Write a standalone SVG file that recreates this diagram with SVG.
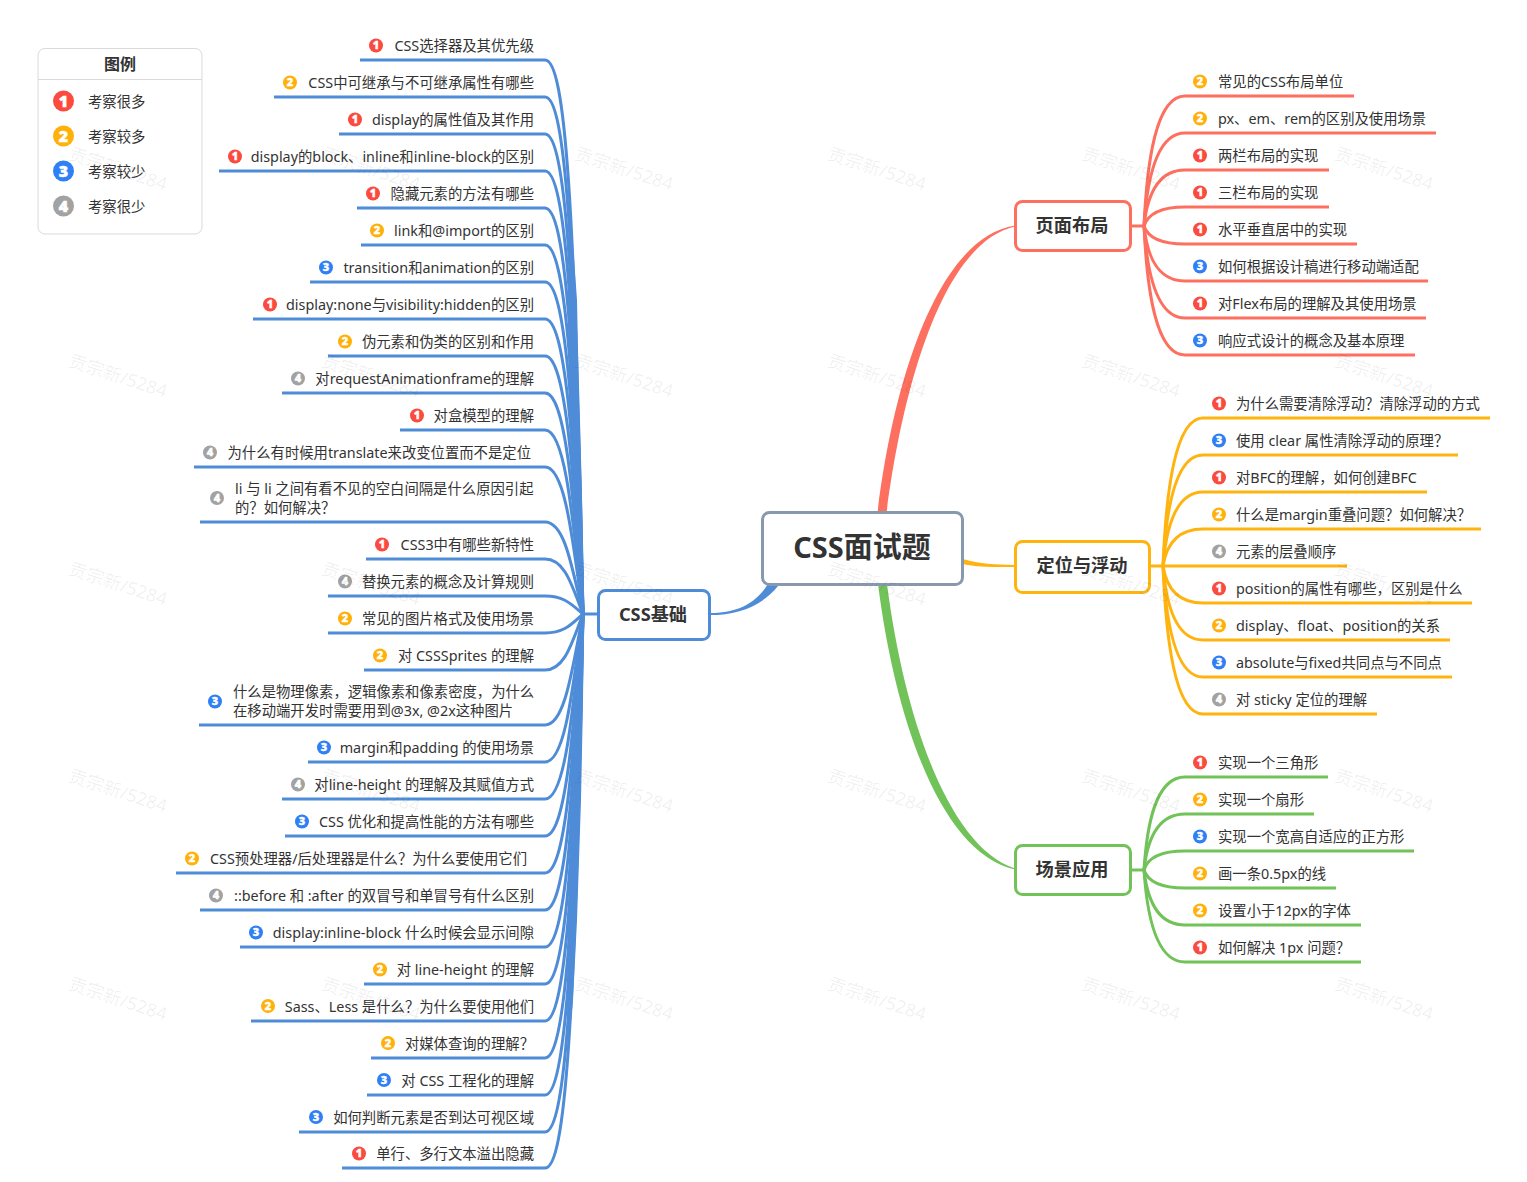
<svg xmlns="http://www.w3.org/2000/svg" width="1527" height="1182" viewBox="0 0 1527 1182" lang="zh-CN">
<style>
text{font-family:"Noto Sans","Noto Sans CJK SC",sans-serif;fill:#333}
.t{font-size:14.35px;transform:translateY(.5px)}
.e{text-anchor:end}
.n{font-size:11px;font-weight:900;fill:#fff;stroke:#fff;stroke-width:.35;text-anchor:middle;transform:translateY(.4px)}
.nl{font-size:16px;font-weight:900;fill:#fff;stroke:#fff;stroke-width:.5;text-anchor:middle}
.h{font-size:18.2px;font-weight:700;text-anchor:middle}
.c1{fill:#fb4a3e}.c2{fill:#ffb10a}.c3{fill:#2f80f5}.c4{fill:#a2a2a2}
.box{fill:#fff;stroke-width:3}
.cb path{fill:none;stroke-width:3}
.blue path{stroke:#4f8cd8}.red path{stroke:#fd6f5f}.yel path{stroke:#ffb30f}.grn path{stroke:#71c258}
.wm{font-size:18px;fill:#000;fill-opacity:.065;text-anchor:middle}
</style>
<g id="connectors">
<path d="M877.500 513C893 384 937 237.500 1015 225.500L1015 226.500C943 242.500 903 386 886.500 513Z" fill="#fd6f5f"/>
<path d="M878 584C895.500 721 941 853 1015 869.500L1015 868.500C949 847 904.500 719 887 584Z" fill="#71c258"/>
<path d="M963 559C980 564 995 564.500 1015 565L1015 567C995 567 978 567.500 963 564Z" fill="#ffb30f"/>
<path d="M710 613C735 613 755 605 768 584L778 586C762 606 738 615 710 615Z" fill="#4f8cd8"/>
<path d="M572 230L568 300 569 400 573 500 580 585 584 614 582 500 579 400 577 300Z" fill="#4f8cd8"/>
<path d="M584 614L583 700 581 800 577 920 573 1000 568 1053 567 1000 568 920 572 800 575 700Z" fill="#4f8cd8"/>
<g class="cb blue">
<path d="M598 614H583"/>
<path d="M360 60H545C565 60 575 198.500 583 614"/>
<path d="M274 97H545C565 97 574.800 237 583 614"/>
<path d="M339 134H545C565 134 574.500 274 583 614"/>
<path d="M219 171H545C565 171 574.300 309 583 614"/>
<path d="M357 208H545C565 208 574 343 583 614"/>
<path d="M361 245H545C565 245 573.800 375 583 614"/>
<path d="M310 282H545C565 282 573.500 406 583 614"/>
<path d="M253 319H545C565 319 573.300 435 583 614"/>
<path d="M328 356H545C565 356 573 463 583 614"/>
<path d="M282 393H545C565 393 572.800 489 583 614"/>
<path d="M400 430H545C565 430 572.500 514 583 614"/>
<path d="M194 467H545C565 467 572.300 537 583 614"/>
<path d="M200 522H545C565 522 572 568 583 614"/>
<path d="M366 559H545C565 559 572 586 583 614"/>
<path d="M328 596H545C565 596 572 605 583 614"/>
<path d="M328 633H545C565 633 572 623.500 583 614"/>
<path d="M364 670H545C565 670 572 642 583 614"/>
<path d="M199 725H545C565 725 572 670 583 614"/>
<path d="M308 762H545C565 762 572.300 692 583 614"/>
<path d="M282 799H545C565 799 572.500 715 583 614"/>
<path d="M285 836H545C565 836 572.800 740 583 614"/>
<path d="M176 873H545C565 873 573 766 583 614"/>
<path d="M200 910H545C565 910 573.300 794 583 614"/>
<path d="M240 947H545C565 947 573.500 823 583 614"/>
<path d="M364 984H545C565 984 573.800 854 583 614"/>
<path d="M251 1021H545C565 1021 574 886 583 614"/>
<path d="M371 1058H545C565 1058 574.300 920 583 614"/>
<path d="M367 1095H545C565 1095 574.500 955 583 614"/>
<path d="M299 1132H545C565 1132 574.800 992 583 614"/>
<path d="M342 1168H545C565 1168 575 1029.500 583 614"/>
</g>
<g class="cb red">
<path d="M1131 226H1144"/>
<path d="M1144 226C1147 161 1156 96 1185 96H1354"/>
<path d="M1144 226C1147 180 1156 133 1185 133H1436"/>
<path d="M1144 226C1147 198 1156 170 1185 170H1329"/>
<path d="M1144 226C1147 217 1156 207 1185 207H1329"/>
<path d="M1144 226C1147 235 1156 244 1185 244H1357"/>
<path d="M1144 226C1147 254 1156 281 1185 281H1428"/>
<path d="M1144 226C1147 272 1156 318 1185 318H1426"/>
<path d="M1144 226C1147 291 1156 355 1185 355H1415"/>
</g>
<g class="cb yel">
<path d="M1150 566H1163"/>
<path d="M1163 566C1166 492 1175 418 1203 418H1490"/>
<path d="M1163 566C1166 510 1175 455 1203 455H1458"/>
<path d="M1163 566C1166 529 1175 492 1203 492H1427"/>
<path d="M1163 566C1166 547 1175 529 1203 529H1481"/>
<path d="M1163 566H1347"/>
<path d="M1163 566C1166 585 1175 603 1203 603H1472"/>
<path d="M1163 566C1166 603 1175 640 1203 640H1450"/>
<path d="M1163 566C1166 622 1175 677 1203 677H1452"/>
<path d="M1163 566C1166 640 1175 714 1203 714H1377"/>
</g>
<g class="cb grn">
<path d="M1131 870H1144"/>
<path d="M1144 870C1147 823 1156 777 1185 777H1328"/>
<path d="M1144 870C1147 842 1156 814 1185 814H1314"/>
<path d="M1144 870C1147 860 1156 851 1185 851H1414"/>
<path d="M1144 870C1147 879 1156 888 1185 888H1336"/>
<path d="M1144 870C1147 897 1156 925 1185 925H1361"/>
<path d="M1144 870C1147 916 1156 962 1185 962H1361"/>
</g>
</g>
<g id="root"><rect class="box" x="762.500" y="512.500" width="200" height="72" rx="7" stroke="#8899ae"/><text x="862" y="558" style="font-size:29px;font-weight:700;text-anchor:middle">CSS面试题</text></g>
<g id="b-base"><rect class="box" x="598.500" y="590.500" width="111" height="49" rx="7" stroke="#4f8cd8"/><text class="h" x="653" y="621">CSS基础</text></g>
<g id="b-layout"><rect class="box" x="1015.500" y="201.500" width="115" height="49" rx="7" stroke="#fd6f5f"/><text class="h" x="1072" y="232">页面布局</text></g>
<g id="b-position"><rect class="box" x="1015.500" y="541.500" width="134" height="51" rx="7" stroke="#ffb30f"/><text class="h" x="1082" y="572">定位与浮动</text></g>
<g id="b-scene"><rect class="box" x="1015.500" y="845.500" width="115" height="49" rx="7" stroke="#71c258"/><text class="h" x="1072" y="876">场景应用</text></g>
<g id="legend">
<rect x="38" y="48.500" width="164" height="185.500" rx="7" fill="#fff" stroke="#d9d9d9" stroke-width="1"/>
<path d="M38 79.500H202" stroke="#d9d9d9" stroke-width="1"/>
<text x="120" y="70" style="font-size:16px;font-weight:700;text-anchor:middle">图例</text>
<circle class="c1" cx="63.500" cy="101" r="10.500"/><text class="nl" x="63.500" y="106.800">1</text><text class="t" x="88" y="106">考察很多</text>
<circle class="c2" cx="63.500" cy="136" r="10.500"/><text class="nl" x="63.500" y="141.800">2</text><text class="t" x="88" y="141">考察较多</text>
<circle class="c3" cx="63.500" cy="171" r="10.500"/><text class="nl" x="63.500" y="176.800">3</text><text class="t" x="88" y="176">考察较少</text>
<circle class="c4" cx="63.500" cy="206" r="10.500"/><text class="nl" x="63.500" y="211.800">4</text><text class="t" x="88" y="211">考察很少</text>
</g>
<g id="l01"><circle class="c1" cx="376" cy="45.500" r="7"/><text class="n" x="376" y="49">1</text><text class="t e" x="534" y="50">CSS选择器及其优先级</text></g>
<g id="l02"><circle class="c2" cx="290" cy="82.500" r="7"/><text class="n" x="290" y="86">2</text><text class="t e" x="534" y="87">CSS中可继承与不可继承属性有哪些</text></g>
<g id="l03"><circle class="c1" cx="355" cy="119.500" r="7"/><text class="n" x="355" y="123">1</text><text class="t e" x="534" y="124">display的属性值及其作用</text></g>
<g id="l04"><circle class="c1" cx="235" cy="156.500" r="7"/><text class="n" x="235" y="160">1</text><text class="t e" x="534" y="161">display的block、inline和inline-block的区别</text></g>
<g id="l05"><circle class="c1" cx="373" cy="193.500" r="7"/><text class="n" x="373" y="197">1</text><text class="t e" x="534" y="198">隐藏元素的方法有哪些</text></g>
<g id="l06"><circle class="c2" cx="377" cy="230.500" r="7"/><text class="n" x="377" y="234">2</text><text class="t e" x="534" y="235">link和@import的区别</text></g>
<g id="l07"><circle class="c3" cx="326" cy="267.500" r="7"/><text class="n" x="326" y="271">3</text><text class="t e" x="534" y="272">transition和animation的区别</text></g>
<g id="l08"><circle class="c1" cx="270" cy="304.500" r="7"/><text class="n" x="270" y="308">1</text><text class="t e" x="534" y="309">display:none与visibility:hidden的区别</text></g>
<g id="l09"><circle class="c2" cx="345" cy="341.500" r="7"/><text class="n" x="345" y="345">2</text><text class="t e" x="534" y="346">伪元素和伪类的区别和作用</text></g>
<g id="l10"><circle class="c4" cx="298" cy="378.500" r="7"/><text class="n" x="298" y="382">4</text><text class="t e" x="534" y="383">对requestAnimationframe的理解</text></g>
<g id="l11"><circle class="c1" cx="417" cy="415.500" r="7"/><text class="n" x="417" y="419">1</text><text class="t e" x="534" y="420">对盒模型的理解</text></g>
<g id="l12"><circle class="c4" cx="210" cy="452.500" r="7"/><text class="n" x="210" y="456">4</text><text class="t e" x="531" y="457">为什么有时候用translate来改变位置而不是定位</text></g>
<g id="l13"><circle class="c4" cx="217" cy="498" r="7"/><text class="n" x="217" y="501.500">4</text><text class="t" x="235" y="493">li 与 li 之间有看不见的空白间隔是什么原因引起</text><text class="t" x="235" y="512">的&#xFF1F;如何解决&#xFF1F;</text></g>
<g id="l14"><circle class="c1" cx="382" cy="544.500" r="7"/><text class="n" x="382" y="548">1</text><text class="t e" x="534" y="549">CSS3中有哪些新特性</text></g>
<g id="l15"><circle class="c4" cx="345" cy="581.500" r="7"/><text class="n" x="345" y="585">4</text><text class="t e" x="534" y="586">替换元素的概念及计算规则</text></g>
<g id="l16"><circle class="c2" cx="345" cy="618.500" r="7"/><text class="n" x="345" y="622">2</text><text class="t e" x="534" y="623">常见的图片格式及使用场景</text></g>
<g id="l17"><circle class="c2" cx="380" cy="655.500" r="7"/><text class="n" x="380" y="659">2</text><text class="t e" x="534" y="660">对 CSSSprites 的理解</text></g>
<g id="l18"><circle class="c3" cx="215" cy="701.500" r="7"/><text class="n" x="215" y="705">3</text><text class="t" x="233" y="696">什么是物理像素&#xFF0C;逻辑像素和像素密度&#xFF0C;为什么</text><text class="t" x="233" y="715">在移动端开发时需要用到@3x, @2x这种图片</text></g>
<g id="l19"><circle class="c3" cx="324" cy="747.500" r="7"/><text class="n" x="324" y="751">3</text><text class="t e" x="534" y="752">margin和padding 的使用场景</text></g>
<g id="l20"><circle class="c4" cx="298" cy="784.500" r="7"/><text class="n" x="298" y="788">4</text><text class="t e" x="534" y="789">对line-height 的理解及其赋值方式</text></g>
<g id="l21"><circle class="c3" cx="302" cy="821.500" r="7"/><text class="n" x="302" y="825">3</text><text class="t e" x="534" y="826">CSS 优化和提高性能的方法有哪些</text></g>
<g id="l22"><circle class="c2" cx="192" cy="858.500" r="7"/><text class="n" x="192" y="862">2</text><text class="t e" x="527" y="863">CSS预处理器/后处理器是什么&#xFF1F;为什么要使用它们</text></g>
<g id="l23"><circle class="c4" cx="216" cy="895.500" r="7"/><text class="n" x="216" y="899">4</text><text class="t e" x="534" y="900">::before 和 :after 的双冒号和单冒号有什么区别</text></g>
<g id="l24"><circle class="c3" cx="256" cy="932.500" r="7"/><text class="n" x="256" y="936">3</text><text class="t e" x="534" y="937">display:inline-block 什么时候会显示间隙</text></g>
<g id="l25"><circle class="c2" cx="380" cy="969.500" r="7"/><text class="n" x="380" y="973">2</text><text class="t e" x="534" y="974">对 line-height 的理解</text></g>
<g id="l26"><circle class="c2" cx="268" cy="1006" r="7"/><text class="n" x="268" y="1009.500">2</text><text class="t e" x="534" y="1011">Sass、Less 是什么&#xFF1F;为什么要使用他们</text></g>
<g id="l27"><circle class="c2" cx="388" cy="1043" r="7"/><text class="n" x="388" y="1046.500">2</text><text class="t e" x="534" y="1048">对媒体查询的理解&#xFF1F;</text></g>
<g id="l28"><circle class="c3" cx="384" cy="1080" r="7"/><text class="n" x="384" y="1083.500">3</text><text class="t e" x="534" y="1085">对 CSS 工程化的理解</text></g>
<g id="l29"><circle class="c3" cx="316" cy="1117" r="7"/><text class="n" x="316" y="1120.500">3</text><text class="t e" x="534" y="1122">如何判断元素是否到达可视区域</text></g>
<g id="l30"><circle class="c1" cx="359" cy="1153.500" r="7"/><text class="n" x="359" y="1157">1</text><text class="t e" x="534" y="1158">单行、多行文本溢出隐藏</text></g>
<g id="r01"><circle class="c2" cx="1200" cy="81.500" r="7"/><text class="n" x="1200" y="85">2</text><text class="t" x="1218" y="86">常见的CSS布局单位</text></g>
<g id="r02"><circle class="c2" cx="1200" cy="118.500" r="7"/><text class="n" x="1200" y="122">2</text><text class="t" x="1218" y="123">px、em、rem的区别及使用场景</text></g>
<g id="r03"><circle class="c1" cx="1200" cy="155.500" r="7"/><text class="n" x="1200" y="159">1</text><text class="t" x="1218" y="160">两栏布局的实现</text></g>
<g id="r04"><circle class="c1" cx="1200" cy="192.500" r="7"/><text class="n" x="1200" y="196">1</text><text class="t" x="1218" y="197">三栏布局的实现</text></g>
<g id="r05"><circle class="c1" cx="1200" cy="229.500" r="7"/><text class="n" x="1200" y="233">1</text><text class="t" x="1218" y="234">水平垂直居中的实现</text></g>
<g id="r06"><circle class="c3" cx="1200" cy="266.500" r="7"/><text class="n" x="1200" y="270">3</text><text class="t" x="1218" y="271">如何根据设计稿进行移动端适配</text></g>
<g id="r07"><circle class="c1" cx="1200" cy="303.500" r="7"/><text class="n" x="1200" y="307">1</text><text class="t" x="1218" y="308">对Flex布局的理解及其使用场景</text></g>
<g id="r08"><circle class="c3" cx="1200" cy="340.500" r="7"/><text class="n" x="1200" y="344">3</text><text class="t" x="1218" y="345">响应式设计的概念及基本原理</text></g>
<g id="y01"><circle class="c1" cx="1219" cy="403.500" r="7"/><text class="n" x="1219" y="407">1</text><text class="t" x="1236" y="408">为什么需要清除浮动&#xFF1F;清除浮动的方式</text></g>
<g id="y02"><circle class="c3" cx="1219" cy="440.500" r="7"/><text class="n" x="1219" y="444">3</text><text class="t" x="1236" y="445">使用 clear 属性清除浮动的原理&#xFF1F;</text></g>
<g id="y03"><circle class="c1" cx="1219" cy="477.500" r="7"/><text class="n" x="1219" y="481">1</text><text class="t" x="1236" y="482">对BFC的理解&#xFF0C;如何创建BFC</text></g>
<g id="y04"><circle class="c2" cx="1219" cy="514.500" r="7"/><text class="n" x="1219" y="518">2</text><text class="t" x="1236" y="519">什么是margin重叠问题&#xFF1F;如何解决&#xFF1F;</text></g>
<g id="y05"><circle class="c4" cx="1219" cy="551.500" r="7"/><text class="n" x="1219" y="555">4</text><text class="t" x="1236" y="556">元素的层叠顺序</text></g>
<g id="y06"><circle class="c1" cx="1219" cy="588.500" r="7"/><text class="n" x="1219" y="592">1</text><text class="t" x="1236" y="593">position的属性有哪些&#xFF0C;区别是什么</text></g>
<g id="y07"><circle class="c2" cx="1219" cy="625.500" r="7"/><text class="n" x="1219" y="629">2</text><text class="t" x="1236" y="630">display、float、position的关系</text></g>
<g id="y08"><circle class="c3" cx="1219" cy="662.500" r="7"/><text class="n" x="1219" y="666">3</text><text class="t" x="1236" y="667">absolute与fixed共同点与不同点</text></g>
<g id="y09"><circle class="c4" cx="1219" cy="699.500" r="7"/><text class="n" x="1219" y="703">4</text><text class="t" x="1236" y="704">对 sticky 定位的理解</text></g>
<g id="g01"><circle class="c1" cx="1200" cy="762.500" r="7"/><text class="n" x="1200" y="766">1</text><text class="t" x="1218" y="767">实现一个三角形</text></g>
<g id="g02"><circle class="c2" cx="1200" cy="799.500" r="7"/><text class="n" x="1200" y="803">2</text><text class="t" x="1218" y="804">实现一个扇形</text></g>
<g id="g03"><circle class="c3" cx="1200" cy="836.500" r="7"/><text class="n" x="1200" y="840">3</text><text class="t" x="1218" y="841">实现一个宽高自适应的正方形</text></g>
<g id="g04"><circle class="c2" cx="1200" cy="873.500" r="7"/><text class="n" x="1200" y="877">2</text><text class="t" x="1218" y="878">画一条0.5px的线</text></g>
<g id="g05"><circle class="c2" cx="1200" cy="910.500" r="7"/><text class="n" x="1200" y="914">2</text><text class="t" x="1218" y="915">设置小于12px的字体</text></g>
<g id="g06"><circle class="c1" cx="1200" cy="947.500" r="7"/><text class="n" x="1200" y="951">1</text><text class="t" x="1218" y="952">如何解决 1px 问题&#xFF1F;</text></g>
<g id="watermark" transform="translate(-1 5)">
<text class="wm" transform="translate(117 170) rotate(18)">贡宗新/5284</text>
<text class="wm" transform="translate(370 170) rotate(18)">贡宗新/5284</text>
<text class="wm" transform="translate(623 170) rotate(18)">贡宗新/5284</text>
<text class="wm" transform="translate(876 170) rotate(18)">贡宗新/5284</text>
<text class="wm" transform="translate(1130 170) rotate(18)">贡宗新/5284</text>
<text class="wm" transform="translate(1383 170) rotate(18)">贡宗新/5284</text>
<text class="wm" transform="translate(117 377) rotate(18)">贡宗新/5284</text>
<text class="wm" transform="translate(370 377) rotate(18)">贡宗新/5284</text>
<text class="wm" transform="translate(623 377) rotate(18)">贡宗新/5284</text>
<text class="wm" transform="translate(876 377) rotate(18)">贡宗新/5284</text>
<text class="wm" transform="translate(1130 377) rotate(18)">贡宗新/5284</text>
<text class="wm" transform="translate(1383 377) rotate(18)">贡宗新/5284</text>
<text class="wm" transform="translate(117 585) rotate(18)">贡宗新/5284</text>
<text class="wm" transform="translate(370 585) rotate(18)">贡宗新/5284</text>
<text class="wm" transform="translate(623 585) rotate(18)">贡宗新/5284</text>
<text class="wm" transform="translate(876 585) rotate(18)">贡宗新/5284</text>
<text class="wm" transform="translate(1130 585) rotate(18)">贡宗新/5284</text>
<text class="wm" transform="translate(1383 585) rotate(18)">贡宗新/5284</text>
<text class="wm" transform="translate(117 792) rotate(18)">贡宗新/5284</text>
<text class="wm" transform="translate(370 792) rotate(18)">贡宗新/5284</text>
<text class="wm" transform="translate(623 792) rotate(18)">贡宗新/5284</text>
<text class="wm" transform="translate(876 792) rotate(18)">贡宗新/5284</text>
<text class="wm" transform="translate(1130 792) rotate(18)">贡宗新/5284</text>
<text class="wm" transform="translate(1383 792) rotate(18)">贡宗新/5284</text>
<text class="wm" transform="translate(117 1000) rotate(18)">贡宗新/5284</text>
<text class="wm" transform="translate(370 1000) rotate(18)">贡宗新/5284</text>
<text class="wm" transform="translate(623 1000) rotate(18)">贡宗新/5284</text>
<text class="wm" transform="translate(876 1000) rotate(18)">贡宗新/5284</text>
<text class="wm" transform="translate(1130 1000) rotate(18)">贡宗新/5284</text>
<text class="wm" transform="translate(1383 1000) rotate(18)">贡宗新/5284</text>
</g>
</svg>
